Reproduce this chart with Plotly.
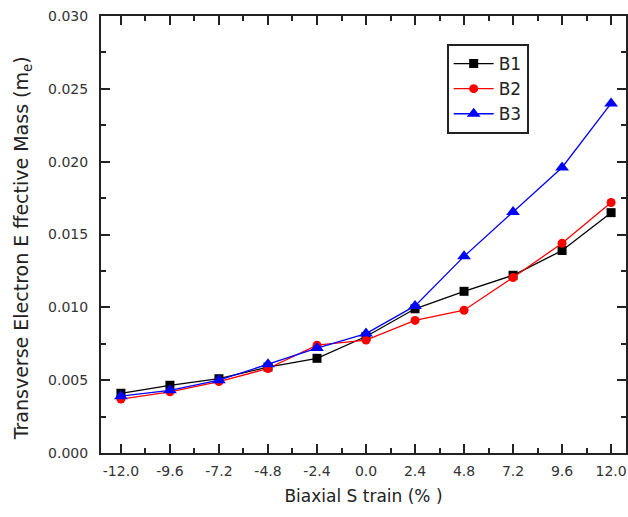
import plotly.graph_objects as go

# Biaxial strain (%) and transverse electron effective mass for the three bands
strain = [-12.0, -9.6, -7.2, -4.8, -2.4, 0.0, 2.4, 4.8, 7.2, 9.6, 12.0]
b1 = [0.0041, 0.00465, 0.0051, 0.0059, 0.0065, 0.0080, 0.0099, 0.0111, 0.0122, 0.0139, 0.0165]
b2 = [0.0037, 0.0042, 0.0049, 0.0058, 0.0074, 0.00775, 0.0091, 0.0098, 0.01205, 0.0144, 0.0172]
b3 = [0.0039, 0.0043, 0.0050, 0.0061, 0.0072, 0.0082, 0.0101, 0.0135, 0.01655, 0.0196, 0.0240]

x_ticks = [-12.0, -9.6, -7.2, -4.8, -2.4, 0.0, 2.4, 4.8, 7.2, 9.6, 12.0]
x_ticklabels = ["-12.0", "-9.6", "-7.2", "-4.8", "-2.4", "0.0", "2.4", "4.8", "7.2", "9.6", "12.0"]
y_ticks = [0.000, 0.005, 0.010, 0.015, 0.020, 0.025, 0.030]
y_ticklabels = ["0.000", "0.005", "0.010", "0.015", "0.020", "0.025", "0.030"]

series = [
    ("B1", b1, "#000000", "square", 9),
    ("B2", b2, "#ff0000", "circle", 9),
    ("B3", b3, "#0000ff", "triangle-up", 12),
]

X_RANGE = [-12.976, 12.73]
Y_RANGE = [0, 0.030]

fig = go.Figure()
for name, vals, color, symbol, size in series:
    fig.add_trace(go.Scatter(
        x=strain, y=vals, name=name, mode="lines+markers",
        line=dict(color=color, width=1.3),
        marker=dict(symbol=symbol, size=size, color=color, line=dict(width=0)),
    ))

font = "DejaVu Sans, Verdana, sans-serif"
ink = "#222222"
tick_style = dict(ticks="inside", ticklen=9, tickwidth=2, tickcolor=ink,
                  showgrid=False, zeroline=False)
x_minor = dict(tickmode="linear", tick0=0, dtick=1.2,
               ticks="inside", ticklen=5, tickwidth=2, tickcolor=ink)
y_minor = dict(tickmode="linear", tick0=0, dtick=0.0025,
               ticks="inside", ticklen=5, tickwidth=2, tickcolor=ink)

plot_w = 628 - 101
plot_h = 517 - 16 - 64

fig.update_layout(
    width=628, height=517,
    margin=dict(l=101, r=0, t=16, b=64),
    paper_bgcolor="white", plot_bgcolor="white",
    font=dict(family=font, color=ink),
    showlegend=True,
    legend=dict(
        x=(448 - 101) / plot_w, y=1 - (44 - 16) / plot_h,
        xanchor="left", yanchor="top",
        bgcolor="white", bordercolor=ink, borderwidth=2,
        font=dict(family=font, size=17, color=ink),
        itemwidth=40,
    ),
    # bottom axis with a mirrored top edge carrying ticks
    xaxis=dict(
        **tick_style, showline=True, linecolor=ink, linewidth=2, mirror="allticks",
        range=X_RANGE,
        tickmode="array", tickvals=x_ticks, ticktext=x_ticklabels,
        tickfont=dict(family=font, size=14, color="#333333"),
        ticklabelstandoff=4, ticklabeloverflow="allow",
        minor=x_minor,
        title=dict(text="Biaxial S train (% )", standoff=12,
                   font=dict(family=font, size=17, color=ink)),
    ),
    # left axis; the right edge gets tick marks only
    yaxis=dict(
        **tick_style, showline=True, linecolor=ink, linewidth=2, mirror="ticks",
        range=Y_RANGE,
        tickmode="array", tickvals=y_ticks, ticktext=y_ticklabels,
        tickfont=dict(family=font, size=14, color="#333333"),
        ticklabelstandoff=8,
        minor=y_minor,
    ),
)

# rotated y-axis title
fig.add_annotation(
    text="Transverse Electron E ffective Mass (m<sub>e</sub>)",
    textangle=-90, showarrow=False,
    xref="paper", yref="paper",
    x=(23 - 101) / plot_w, y=1 - (248 - 16) / plot_h,
    xanchor="center", yanchor="middle",
    font=dict(family=font, size=19, color=ink),
)

fig.write_html("out.html")
